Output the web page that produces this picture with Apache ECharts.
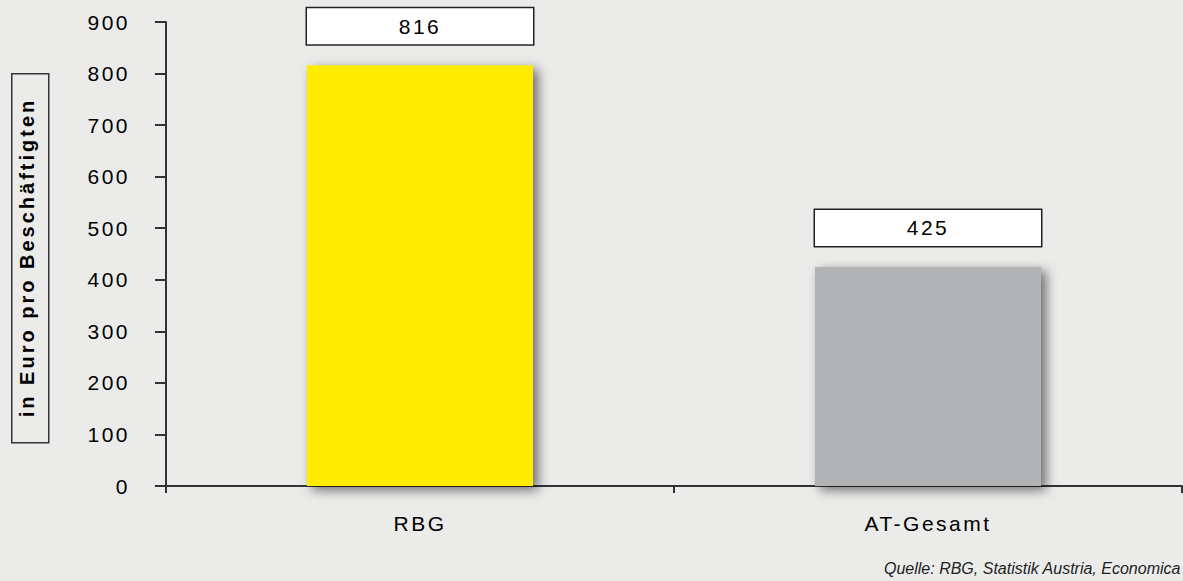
<!DOCTYPE html>
<html>
<head>
<meta charset="utf-8">
<script src="https://cdn.jsdelivr.net/npm/echarts@6/dist/echarts.min.js"></script>
<style>
  html, body { margin: 0; padding: 0; background: #ebecea; }
  #chart { width: 1183px; height: 581px; }
  #chart text { letter-spacing: 2.5px; }
</style>
</head>
<body>
<div id="chart"></div>
<script>
const categories = ['RBG', 'AT-Gesamt'];
const values = [816, 425];
const barColors = ['#ffec00', '#b2b3b4'];
const yAxisName = 'in Euro pro Beschäftigten';
const sourceText = 'Quelle: RBG, Statistik Austria, Economica';

const FONT = '"Liberation Sans", Arial, Helvetica, sans-serif';
const chart = echarts.init(document.getElementById('chart'), null, { renderer: 'svg' });

chart.setOption({
  backgroundColor: '#ebecea',
  animation: false,
  textStyle: { fontFamily: FONT },
  grid: { left: 166, right: 1, top: 22, bottom: 95 },
  xAxis: {
    type: 'category',
    data: categories,
    boundaryGap: true,
    axisLine: { show: true, lineStyle: { color: '#333', width: 2 } },
    axisTick: { show: true, length: 7, lineStyle: { color: '#333', width: 2 } },
    axisLabel: { fontSize: 21, color: '#000', margin: 27, fontFamily: FONT }
  },
  yAxis: {
    type: 'value',
    min: 0,
    max: 900,
    interval: 100,
    name: yAxisName,
    nameLocation: 'middle',
    nameRotate: 90,
    nameGap: 129,
    nameTextStyle: {
      fontSize: 20,
      fontWeight: 'bold',
      color: '#000',
      fontFamily: FONT,
      lineHeight: 20,
      padding: [0, 7, 0, 0]
    },
    axisLine: { show: true, lineStyle: { color: '#333', width: 2 } },
    axisTick: { show: true, length: 11, lineStyle: { color: '#333', width: 2 } },
    axisLabel: { fontSize: 21, color: '#000', margin: 36, fontFamily: FONT },
    splitLine: { show: false }
  },
  series: [{
    type: 'bar',
    barWidth: 226,
    data: values.map((v, i) => ({
      value: v,
      itemStyle: {
        color: barColors[i],
        shadowColor: 'rgba(0,0,0,0.55)',
        shadowBlur: 12,
        shadowOffsetX: 5,
        shadowOffsetY: 4
      }
    })),
    label: {
      show: true,
      position: 'top',
      distance: 21,
      fontSize: 21,
      color: '#000',
      fontFamily: FONT,
      width: 224,
      lineHeight: 18,
      padding: [9, 1],
      align: 'center',
      backgroundColor: '#fff',
      borderColor: '#222',
      borderWidth: 1.5
    }
  }],
  graphic: [{
    type: 'rect',
    left: 11,
    top: 73,
    shape: { width: 37, height: 369 },
    style: { fill: 'transparent', stroke: '#333', lineWidth: 1.5 },
    silent: true
  }, {
    type: 'text',
    right: 2,
    top: 560,
    style: {
      text: sourceText,
      fontSize: 16,
      fontStyle: 'italic',
      fontFamily: FONT,
      fill: '#222'
    }
  }]
});

function fixText() {
  document.querySelectorAll('#chart text').forEach(t => {
    if (t.textContent === sourceText) t.style.letterSpacing = '0px';
    if (t.textContent === yAxisName) t.style.letterSpacing = '3px';
  });
}
fixText();
chart.on('finished', fixText);
</script>
</body>
</html>
